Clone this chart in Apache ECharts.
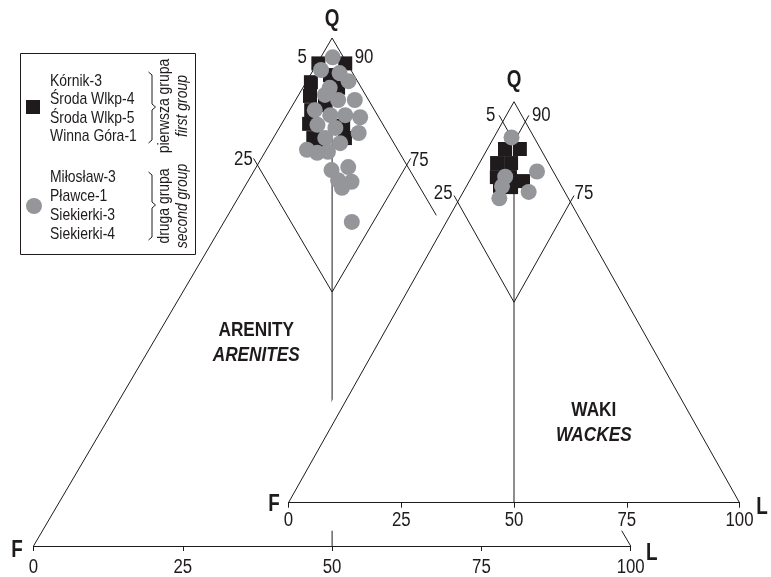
<!DOCTYPE html>
<html>
<head>
<meta charset="utf-8">
<script src="https://cdn.jsdelivr.net/npm/echarts@6/dist/echarts.min.js"></script>
<style>
  html, body { margin: 0; padding: 0; background: #fff; }
  #chart { width: 771px; height: 577px; }
</style>
</head>
<body>
<div id="chart"></div>
<script>
// QFL compositions, [Q, F, L] in percent
const arenitesFirstGroup = [
  [95.0, 4.8, 0.2], [95.0, 0.3, 4.7], [92.7, 4.0, 3.3], [91.3, 7.9, 0.8],
  [90.2, 3.9, 5.9], [88.6, 9.4, 2.0], [86.8, 7.8, 5.4], [85.8, 10.6, 3.6],
  [83.1, 12.3, 4.6], [82.7, 6.8, 10.5], [80.3, 13.0, 6.7], [80.3, 7.7, 12.0],
  [79.7, 12.2, 8.1]
];
const arenitesSecondGroup = [
  [96.2, 1.8, 2.0], [93.7, 5.0, 1.3], [93.1, 2.2, 4.7], [91.5, 1.5, 7.0],
  [90.2, 5.3, 4.5], [88.8, 6.8, 4.4], [87.8, 5.1, 7.1], [87.8, 2.3, 9.9],
  [85.8, 10.0, 4.2], [84.8, 7.9, 7.3], [84.8, 5.4, 9.8], [84.4, 3.1, 12.5],
  [82.9, 11.0, 6.1], [82.3, 8.3, 9.4], [81.3, 4.9, 13.8], [80.3, 11.0, 8.7],
  [79.3, 9.0, 11.7], [78.0, 15.2, 6.8], [77.6, 11.9, 10.5], [77.4, 13.8, 8.8],
  [74.6, 10.0, 15.4], [74.0, 13.1, 12.9], [72.0, 13.0, 15.0], [71.7, 10.9, 17.4],
  [70.5, 13.1, 16.4], [63.8, 14.8, 21.4]
];
const wackesFirstGroup = [
  [88.2, 7.9, 3.9], [88.2, 4.6, 7.2], [84.7, 11.4, 3.9], [84.7, 8.3, 7.0],
  [81.2, 13.2, 5.6], [81.2, 10.3, 8.5], [80.2, 7.9, 11.9], [79.0, 13.6, 7.4],
  [78.7, 11.3, 10.0]
];
const wackesSecondGroup = [
  [91.1, 5.0, 3.9], [82.6, 3.6, 13.8], [81.3, 11.3, 7.4], [78.9, 13.2, 7.9],
  [77.5, 8.0, 14.5], [75.9, 15.3, 8.8]
];

// Field boundaries: lines of constant F and constant L at these percentages
const boundaryPercents = [5, 25];
const boundaryLabels = [['5', '90'], ['25', '75']];
const baseTicks = [0, 25, 50, 75, 100];

const firstGroupWells = ['Kórnik-3', 'Środa Wlkp-4', 'Środa Wlkp-5', 'Winna Góra-1'];
const secondGroupWells = ['Miłosław-3', 'Pławce-1', 'Siekierki-3', 'Siekierki-4'];
const firstGroupTitle = ['pierwsza grupa', 'first group'];
const secondGroupTitle = ['druga grupa', 'second group'];

const INK = '#1f1b1c';
const GRAY = '#959699';
const FONT = '"Liberation Sans", Arial, sans-serif';
const NARROW_X = 0.82;   // horizontal squeeze giving a condensed face

// ternary [Q, F, L] -> cartesian [x, y]; F at x=0, L at x=100, Q at top
function tern(q, f, l) { return [l + q / 2, q]; }

function textEl(s, x, y, size, weight, italic, extra) {
  return Object.assign({
    type: 'text', x: x, y: y, scaleX: NARROW_X,
    style: {
      text: s, fill: INK, fontSize: size, fontWeight: weight || 'normal',
      fontStyle: italic ? 'italic' : 'normal', fontFamily: FONT,
      align: 'center', verticalAlign: 'middle'
    }
  }, extra || {});
}

function frameSeries(gi, z, cfg) {
  return {
    type: 'custom', xAxisIndex: gi, yAxisIndex: gi, z: z, silent: true, clip: false,
    data: [[0, 0]],
    renderItem: function (params, api) {
      const P = (q, f, l) => api.coord(tern(q, f, l));
      const children = [];
      const seg = (a, b) => children.push({
        type: 'line', shape: { x1: a[0], y1: a[1], x2: b[0], y2: b[1] },
        style: { stroke: INK, lineWidth: 1 }
      });
      const txt = (s, p, dx, dy, size, weight, italic) =>
        children.push(textEl(s, p[0] + dx, p[1] + dy, size, weight, italic));
      const Q = P(100, 0, 0), F = P(0, 100, 0), L = P(0, 0, 100);
      seg(F, Q); seg(Q, L);
      const e = cfg.ext;
      boundaryPercents.forEach(function (p, i) {
        const mid = P(100 - 2 * p, p, p);
        seg(P(100 - p + e, p, -e), mid);
        seg(P(100 - p + e, -e, p), mid);
        const o = cfg.markOffsets[i];
        txt(boundaryLabels[i][0], P(100 - p, p, 0), o[0], o[1], 20.5);
        txt(boundaryLabels[i][1], P(100 - p, 0, p), o[2], o[3], 20.5);
      });
      const p0 = boundaryPercents[0];
      seg(P(100 - 2 * p0, p0, p0), P(0, 50, 50));
      // base scale labels
      baseTicks.forEach(v => txt(String(v), api.coord([v, 0]), 0, cfg.tickLabelDy, 20.5));
      txt('Q', Q, cfg.qOff[0], cfg.qOff[1], 23, 'bold');
      txt('F', F, cfg.fOff[0], cfg.fOff[1], 23, 'bold');
      txt('L', L, cfg.lOff[0], cfg.lOff[1], 23, 'bold');
      const n = api.coord(cfg.namePos);
      txt(cfg.names[0], n, 0, 0, 21, 'bold');
      txt(cfg.names[1], n, 0, 25, 21, 'bold', true);
      return { type: 'group', children: children };
    }
  };
}

// white field behind the wacke diagram, hiding the arenite diagram lines it overlaps
function offsetPolygon(pts, ds) {
  const n = pts.length;
  const cx = pts.reduce((s, p) => s + p[0], 0) / n, cy = pts.reduce((s, p) => s + p[1], 0) / n;
  const lines = [];
  for (let i = 0; i < n; i++) {
    const a = pts[i], b = pts[(i + 1) % n];
    let nx = b[1] - a[1], ny = a[0] - b[0];
    const len = Math.hypot(nx, ny); nx /= len; ny /= len;
    if ((a[0] - cx) * nx + (a[1] - cy) * ny < 0) { nx = -nx; ny = -ny; }
    lines.push({ p: [a[0] + nx * ds[i], a[1] + ny * ds[i]], d: [b[0] - a[0], b[1] - a[1]] });
  }
  const out = [];
  for (let i = 0; i < n; i++) {
    const l1 = lines[(i + n - 1) % n], l2 = lines[i];
    const den = l1.d[0] * l2.d[1] - l1.d[1] * l2.d[0];
    const t = ((l2.p[0] - l1.p[0]) * l2.d[1] - (l2.p[1] - l1.p[1]) * l2.d[0]) / den;
    out.push([l1.p[0] + l1.d[0] * t, l1.p[1] + l1.d[1] * t]);
  }
  return out;
}

const backdrop = {
  type: 'custom', xAxisIndex: 1, yAxisIndex: 1, z: 2, silent: true, clip: false,
  data: [[0, 0]],
  renderItem: function (params, api) {
    const F = api.coord(tern(0, 100, 0)), L = api.coord(tern(0, 0, 100)), Q = api.coord(tern(100, 0, 0));
    const pts = offsetPolygon([F, L, Q], [28, 12, 12]);
    return { type: 'polygon', shape: { points: pts }, style: { fill: '#ffffff' } };
  }
};

function baseAxis(gi, z) {
  return {
    type: 'value', gridIndex: gi, min: 0, max: 100, interval: 25, z: z,
    axisLine: { show: true, lineStyle: { color: INK, width: 1 } },
    axisTick: { show: true, length: 5, lineStyle: { color: INK, width: 1 } },
    axisLabel: { show: false },
    splitLine: { show: false }
  };
}
function hiddenAxis(gi) {
  return { type: 'value', gridIndex: gi, min: 0, max: 100, show: false, splitLine: { show: false } };
}

function scatter(gi, data, symbol, size, color, z) {
  return {
    type: 'scatter', xAxisIndex: gi, yAxisIndex: gi, z: z, clip: false, silent: true,
    symbol: symbol, symbolSize: size,
    itemStyle: { color: color, opacity: 1 },
    data: data.map(d => tern(d[0], d[1], d[2]))
  };
}

// legend drawn as graphic elements
const legendGraphics = [];
legendGraphics.push({ type: 'rect', shape: { x: 20.5, y: 53.5, width: 175, height: 201 },
  style: { fill: '#fff', stroke: INK, lineWidth: 1 }, z: 20 });
legendGraphics.push({ type: 'rect', shape: { x: 26, y: 100, width: 14, height: 14 }, style: { fill: INK }, z: 21 });
legendGraphics.push({ type: 'circle', shape: { cx: 34, cy: 206, r: 8 }, style: { fill: GRAY }, z: 21 });
const leftText = s => ({ text: s, fill: INK, fontSize: 17, fontFamily: FONT, align: 'left', verticalAlign: 'middle' });
firstGroupWells.forEach((s, i) => legendGraphics.push(
  textEl(s, 50, 81 + i * 18.6, 17, 'normal', false, { z: 21, style: leftText(s) })));
secondGroupWells.forEach((s, i) => legendGraphics.push(
  textEl(s, 50, 177 + i * 19, 17, 'normal', false, { z: 21, style: leftText(s) })));
[[72, 107, 143], [172, 205, 240]].forEach(b => legendGraphics.push({
  type: 'polyline', z: 21,
  shape: { points: [[148.5, b[0]], [152, b[0] + 3], [152, b[1] - 3], [155.5, b[1]], [152, b[1] + 3], [152, b[2] - 3], [148.5, b[2]]] },
  style: { stroke: INK, lineWidth: 1, fill: null }
}));
[[firstGroupTitle, 106], [secondGroupTitle, 206]].forEach(g => {
  legendGraphics.push(textEl(g[0][0], 164, g[1], 17, 'normal', false, { rotation: Math.PI / 2, z: 21 }));
  legendGraphics.push(textEl(g[0][1], 182, g[1], 17, 'normal', true, { rotation: Math.PI / 2, z: 21 }));
});

const chart = echarts.init(document.getElementById('chart'), null, { renderer: 'canvas' });
chart.setOption({
  animation: false,
  backgroundColor: '#ffffff',
  grid: [
    { left: 33.5, top: 38, width: 597.2, height: 508 },
    { left: 288.5, top: 101.7, width: 451, height: 401 }
  ],
  xAxis: [baseAxis(0, 1), baseAxis(1, 3)],
  yAxis: [hiddenAxis(0), hiddenAxis(1)],
  graphic: legendGraphics,
  series: [
    frameSeries(0, 1, {
      ext: 1.3, qOff: [0, -18], fOff: [-16.5, 5], lOff: [21, 8], tickLabelDy: 21,
      markOffsets: [[-15, -6, 17, -6], [-14, -6, 12.5, -5]],
      names: ['ARENITY', 'ARENITES'], namePos: [37.3, 42.5]
    }),
    backdrop,
    frameSeries(1, 4, {
      ext: 1.6, qOff: [0, -21], fOff: [-14.5, 1.5], lOff: [22.5, 4.5], tickLabelDy: 17.5,
      markOffsets: [[-12, -6, 16, -6], [-14.5, -9, 13.5, -9]],
      names: ['WAKI', 'WACKES'], namePos: [67.7, 23.1]
    }),
    scatter(0, arenitesFirstGroup, 'rect', 14, INK, 5),
    scatter(0, arenitesSecondGroup, 'circle', 16, GRAY, 6),
    scatter(1, wackesFirstGroup, 'rect', 14, INK, 5),
    scatter(1, wackesSecondGroup, 'circle', 16, GRAY, 6)
  ]
});
</script>
</body>
</html>
